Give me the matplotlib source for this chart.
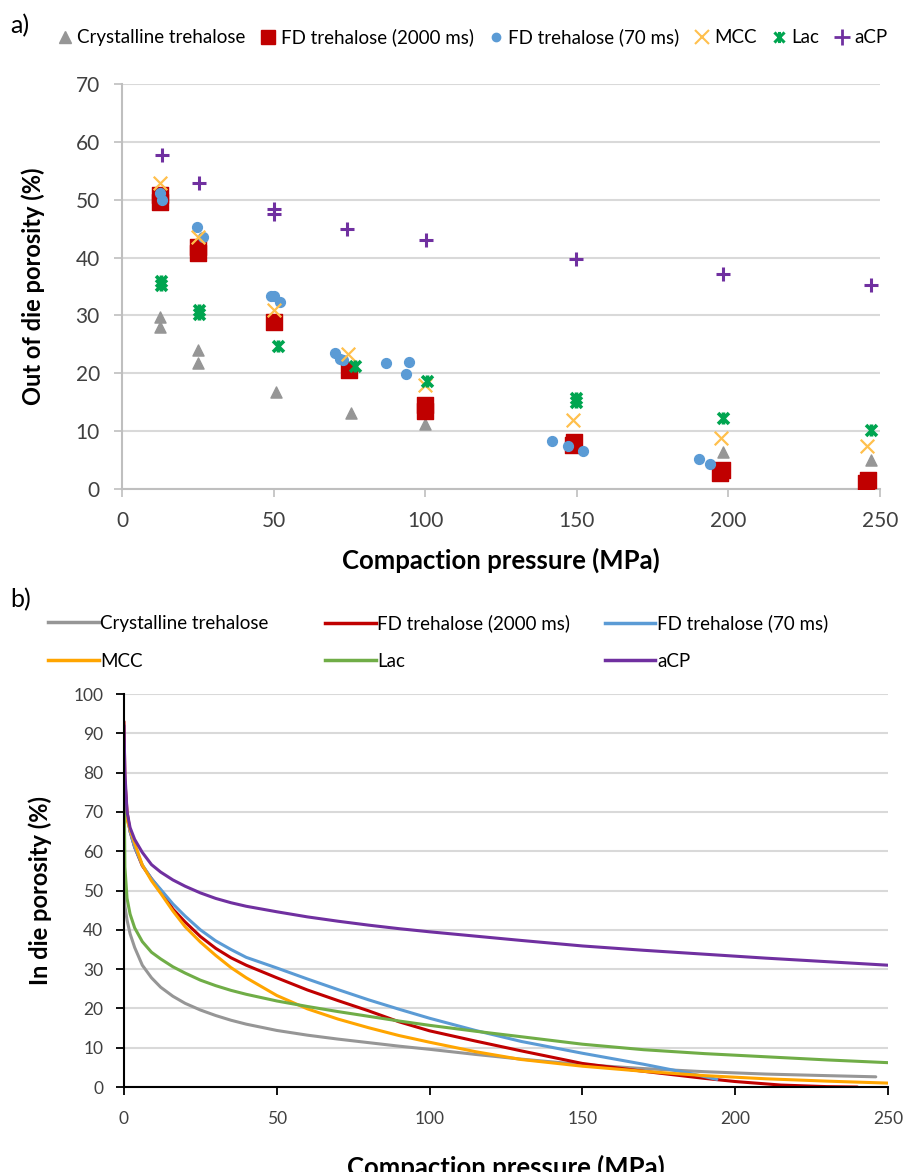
import matplotlib
matplotlib.use("Agg")
import matplotlib.pyplot as plt
from matplotlib.path import Path
from matplotlib.lines import Line2D

plt.rcParams['font.family'] = ['Lato', 'DejaVu Sans']

# ---- a) out of die porosity (scatter) ----
cryst_p = [12.5, 12.5, 25, 25, 50.9, 75.6, 100, 198.3, 246.9]
cryst_v = [29.7, 28.0, 24.0, 21.7, 16.8, 13.2, 11.2, 6.4, 5.0]

fd2000_p = [12.5, 12.5, 25, 25, 50, 75, 100, 100, 148.7, 149, 197.2, 198, 245.5, 246]
fd2000_v = [50.8, 49.6, 41.8, 40.8, 28.9, 20.6, 14.5, 13.5, 7.6, 8.2, 2.7, 3.2, 1.0, 1.5]

fd70_p = [12.6, 13.1, 24.6, 26.8, 49.2, 50.2, 52.1, 70.3, 72.0, 73.0, 87.1, 94.7, 93.7,
          141.8, 147.0, 152.0, 190.4, 194.0]
fd70_v = [51.1, 49.9, 45.3, 43.6, 33.3, 33.3, 32.3, 23.5, 22.4, 22.3, 21.7, 21.9, 19.9,
          8.3, 7.4, 6.6, 5.1, 4.3]

mcc_p = [12.5, 25, 50, 74.5, 100, 148.7, 197.5, 245.8]
mcc_v = [52.9, 43.6, 31.0, 23.4, 18.0, 12.0, 8.8, 7.4]

lac_p = [12.8, 12.8, 25.5, 25.5, 51.4, 76.7, 100.5, 149.8, 149.8, 198.2, 247.1]
lac_v = [36.0, 35.2, 31.0, 30.3, 24.7, 21.3, 18.7, 15.8, 15.0, 12.2, 10.2]

acp_p = [13.1, 25.4, 50.2, 50.2, 74.2, 100.2, 149.8, 198.2, 246.9]
acp_v = [57.7, 52.9, 48.4, 47.6, 45.0, 43.1, 39.8, 37.2, 35.3]

# ---- b) in die porosity (curves, read off the figure) ----
cryst_cp = [0, 0.3, 1, 2, 3.5, 6, 9, 12, 16, 20, 25, 30, 35, 40, 50, 60, 70, 80, 90, 100,
            115, 130, 150, 170, 190, 210, 230, 246]
cryst_cv = [52, 46, 42.5, 39, 35.5, 31, 27.8, 25.4, 23.1, 21.3, 19.6, 18.2, 17.0, 16.0, 14.4,
            13.2, 12.2, 11.3, 10.4, 9.6, 8.3, 7.1, 5.7, 4.7, 3.9, 3.3, 2.9, 2.6]

fd2000_cp = [0, 0.3, 1, 2, 3.5, 6, 9, 12, 16, 20, 25, 30, 35, 40, 50, 60, 70, 80, 90, 100,
             115, 130, 150, 170, 190, 200, 215, 230, 240]
fd2000_cv = [93, 78, 70, 65, 61, 56.3, 53, 50, 45.3, 42.0, 38.3, 35.3, 32.9, 31.0, 27.8,
             24.7, 22.0, 19.4, 16.6, 14.3, 11.7, 9.2, 6.0, 4.0, 2.2, 1.4, 0.5, 0.1, 0]

fd70_cp = [0, 0.3, 1, 2, 3.5, 6, 9, 12, 16, 20, 25, 30, 35, 40, 50, 60, 70, 80, 90, 100,
           115, 130, 150, 170, 185, 194]
fd70_cv = [80, 74, 69, 65, 61, 56.5, 53, 50.3, 46.6, 43.5, 40.0, 37.2, 35.0, 33.0, 30.3,
           27.5, 24.8, 22.2, 19.8, 17.5, 14.4, 11.6, 8.6, 5.8, 3.5, 1.95]

mcc_cp = [0, 0.3, 1, 2, 3.5, 6, 9, 12, 16, 20, 25, 30, 35, 40, 50, 60, 70, 80, 90, 100,
          115, 130, 150, 170, 190, 210, 230, 250]
mcc_cv = [75, 71, 68, 65.5, 62, 56.5, 52.5, 49.3, 44.8, 40.8, 36.9, 33.5, 30.4, 27.8, 23.3,
          19.9, 17.3, 15.1, 13.1, 11.4, 9.0, 7.0, 5.3, 4.0, 2.9, 2.1, 1.5, 1.0]

lac_cp = [0, 0.3, 1, 2, 3.5, 6, 9, 12, 16, 20, 25, 30, 35, 40, 50, 60, 70, 80, 90, 100,
          115, 130, 150, 170, 190, 210, 230, 250]
lac_cv = [82, 56, 48, 44, 40.5, 37, 34.3, 32.6, 30.6, 29.0, 27.2, 25.8, 24.6, 23.6, 21.9,
          20.5, 19.2, 18.0, 16.8, 15.7, 14.2, 12.8, 10.9, 9.5, 8.5, 7.7, 6.9, 6.2]

acp_cp = [0, 0.3, 1, 2, 3.5, 6, 9, 12, 16, 20, 25, 30, 35, 40, 50, 60, 70, 80, 90, 100,
          115, 130, 150, 170, 190, 210, 230, 250]
acp_cv = [92, 80, 70, 66, 63, 59.7, 56.6, 54.7, 52.7, 51.1, 49.4, 48.0, 46.9, 46.0, 44.6,
          43.3, 42.2, 41.2, 40.3, 39.5, 38.4, 37.3, 35.9, 34.8, 33.8, 32.8, 31.9, 31.0]

labels = ["Crystalline trehalose", "FD trehalose (2000 ms)", "FD trehalose (70 ms)", "MCC", "Lac", "aCP"]

# Excel-like "star" marker: X with a vertical stroke
star = Path([(-1, -1), (1, 1), (-1, 1), (1, -1), (0, -1.1), (0, 1.1)],
            [Path.MOVETO, Path.LINETO, Path.MOVETO, Path.LINETO, Path.MOVETO, Path.LINETO])

fig = plt.figure(figsize=(9.05, 11.72), dpi=100)

# --- panel a ---
ax = fig.add_axes([0.1348, 0.5828, 0.8376, 0.3456])
ax.scatter(cryst_p, cryst_v, marker="^", s=64, color="#969696", zorder=3)
ax.scatter(fd2000_p, fd2000_v, marker="s", s=120, color="#c00000", zorder=3)
ax.scatter(fd70_p, fd70_v, marker="o", s=50, color="#5b9bd5", zorder=4)
ax.scatter(mcc_p, mcc_v, marker="x", s=95, color="#ffc04d", linewidths=1.6, zorder=5)
ax.scatter(lac_p, lac_v, marker=star, s=75, color="#00a550", linewidths=2.6, zorder=5)
ax.scatter(acp_p, acp_v, marker="+", s=110, color="#7030a0", linewidths=2.2, zorder=5)
ax.set_xlim(0, 250)
ax.set_ylim(0, 70)
ax.set_xticks(range(0, 251, 50))
ax.set_yticks(range(0, 71, 10))
ax.grid(axis="y", color="#d9d9d9", linewidth=1.5)
ax.set_axisbelow(True)
for s in ["top", "right"]:
    ax.spines[s].set_visible(False)
for s in ["left", "bottom"]:
    ax.spines[s].set_color("#bfbfbf")
    ax.spines[s].set_linewidth(1.5)
ax.tick_params(colors="#bfbfbf", labelcolor="#404040", labelsize=15, length=6, width=1.2)
ax.tick_params(axis="x", pad=10)
ax.tick_params(axis="y", pad=10)
ax.set_xlabel("Compaction pressure (MPa)", fontsize=18.5, fontweight="bold", labelpad=12)
ax.set_ylabel("Out of die porosity (%)", fontsize=17, fontweight="bold", labelpad=22)

handles_a = [
    Line2D([], [], marker="^", color="#969696", ls="none", markersize=8),
    Line2D([], [], marker="s", color="#c00000", ls="none", markersize=10),
    Line2D([], [], marker="o", color="#5b9bd5", ls="none", markersize=6),
    Line2D([], [], marker="x", color="#ffc04d", ls="none", markersize=10, mew=1.5),
    Line2D([], [], marker=star, color="#00a550", ls="none", markersize=8, mew=2.2),
    Line2D([], [], marker="+", color="#7030a0", ls="none", markersize=11, mew=2),
]
fig.legend(handles_a, labels, loc="center", bbox_to_anchor=(0.52, 0.968), ncol=6, frameon=False,
           fontsize=13.5, handletextpad=0.05, columnspacing=0.6, handlelength=1.2)
fig.text(0.011, 0.978, "a)", fontsize=18, va="center")

# --- panel b ---
bx = fig.add_axes([0.137, 0.0725, 0.8442, 0.3353])
colors_b = ["#969696", "#c00000", "#5b9bd5", "#ffa500", "#70ad47", "#7030a0"]
curves = [(cryst_cp, cryst_cv), (fd2000_cp, fd2000_cv), (fd70_cp, fd70_cv),
          (mcc_cp, mcc_cv), (lac_cp, lac_cv), (acp_cp, acp_cv)]
for (px, py), c in zip(curves, colors_b):
    bx.plot(px, py, color=c, lw=2.2, solid_joinstyle="round", solid_capstyle="round")
bx.set_xlim(0, 250)
bx.set_ylim(0, 100)
bx.set_xticks(range(0, 251, 50))
bx.set_yticks(range(0, 101, 10))
bx.grid(axis="y", color="#d9d9d9", linewidth=1.5)
bx.set_axisbelow(True)
for s in ["top", "right"]:
    bx.spines[s].set_visible(False)
for s in ["left", "bottom"]:
    bx.spines[s].set_linewidth(1.5)
bx.tick_params(labelcolor="#404040", labelsize=12.5, length=6, width=1.3)
bx.tick_params(axis="x", pad=11)
bx.tick_params(axis="y", pad=9)
bx.set_xlabel("Compaction pressure (MPa)", fontsize=18.5, fontweight="bold", labelpad=20)
bx.set_ylabel("In die porosity (%)", fontsize=17, fontweight="bold", labelpad=15)

handles_b = [Line2D([], [], color=c, lw=2.5) for c in colors_b]
col_x = [0.053, 0.359, 0.668]
for j in range(3):
    fig.legend([handles_b[j], handles_b[j + 3]], [labels[j], labels[j + 3]], loc="center left",
               bbox_to_anchor=(col_x[j], 0.452), frameon=False, fontsize=13.5, handlelength=2.7,
               handletextpad=0.1, labelspacing=1.1, borderpad=0, borderaxespad=0)
fig.text(0.011, 0.488, "b)", fontsize=18, va="center")

fig.savefig("out.png", dpi=100)
plt.close()
